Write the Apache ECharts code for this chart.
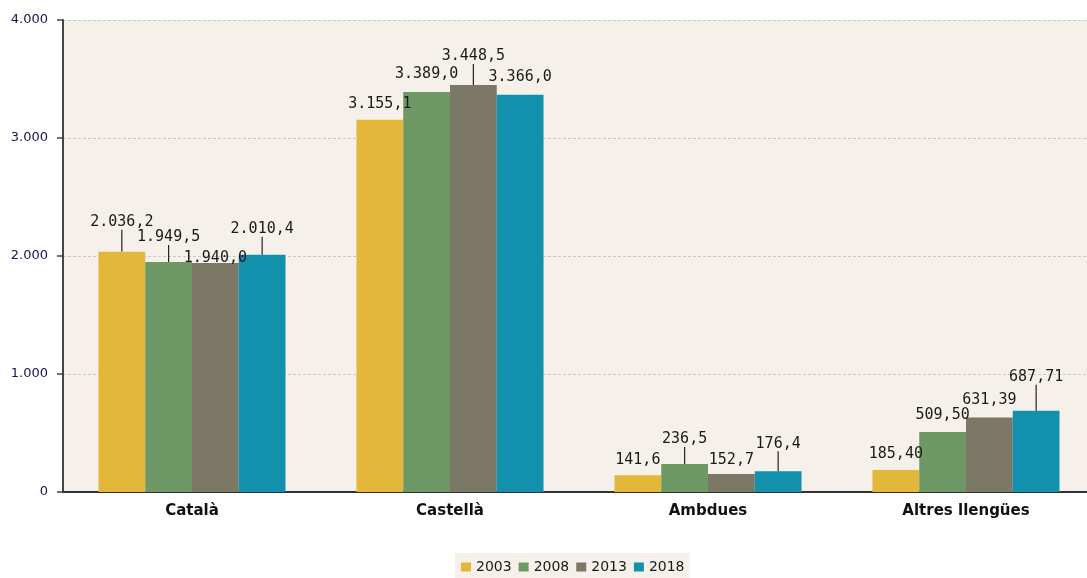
<!DOCTYPE html>
<html><head><meta charset="utf-8">
<script src="https://cdn.jsdelivr.net/npm/echarts@6/dist/echarts.min.js"></script>
<style>html,body{margin:0;padding:0;background:#fff;overflow:hidden;width:1087px;height:578px}#c{width:1095px;height:578px}</style>
</head><body><div id="c"></div>
<script>
const categories = ['Català', 'Castellà', 'Ambdues', 'Altres llengües'];
const decimals = [1, 1, 1, 2];
const years = ['2003', '2008', '2013', '2018'];
const v2003 = [2036.2, 3155.1, 141.6, 185.40];
const v2008 = [1949.5, 3389.0, 236.5, 509.50];
const v2013 = [1940.0, 3448.5, 152.7, 631.39];
const v2018 = [2010.4, 3366.0, 176.4, 687.71];
const yTicks = [0, 1000, 2000, 3000, 4000];

const colors = ['#E3B83A', '#6E9966', '#7B7966', '#1390AC'];
// label vertical offsets (px) and whether a leader line is drawn
const labelDy = [
  [-17, -3, -3, -4],
  [-12, -5, -12, -4],
  [8, -16, -1, -5],
  [-13, -5, -15, -21]
];
const labelLines = [
  [true, false, false, false],
  [true, false, true, false],
  [false, true, false, false],
  [true, false, true, true]
];

function fmt(v, d) {
  const parts = v.toFixed(d).split('.');
  parts[0] = parts[0].replace(/\B(?=(\d{3})+(?!\d))/g, '.');
  return parts.join(',');
}
function fmtAxis(v) { return String(v).replace(/\B(?=(\d{3})+(?!\d))/g, '.'); }

const values = [v2003, v2008, v2013, v2018];
const series = years.map((y, si) => ({
  name: y,
  type: 'bar',
  barGap: '0%',
  barCategoryGap: '27.5%',
  itemStyle: { color: colors[si] },
  data: values[si].map((v, ci) => ({
    value: v,
    labelLine: { show: labelLines[si][ci], lineStyle: { color: '#222', width: 1.2 } }
  })),
  label: {
    show: true,
    position: 'top',
    distance: 5,
    fontFamily: 'DejaVu Sans Mono',
    fontSize: 15,
    color: '#1a1a1a',
    formatter: p => fmt(p.value, decimals[p.dataIndex])
  },
  labelLayout: p => ({ dy: labelDy[si][p.dataIndex] }),
  labelLine: { show: false, smooth: false, length2: 0 }
}));

const chart = echarts.init(document.getElementById('c'), null, { renderer: 'canvas' });
chart.setOption({
  animation: false,
  backgroundColor: '#ffffff',
  color: colors,
  grid: { left: 63, right: 0, top: 20, bottom: 86, show: true, backgroundColor: '#F5F0EA', borderWidth: 0 },
  legend: {
    data: years,
    left: 455,
    top: 553,
    icon: 'rect',
    itemWidth: 10,
    itemHeight: 9,
    itemGap: 7,
    padding: [7, 5, 8, 6],
    backgroundColor: '#F5F0EA',
    textStyle: { fontFamily: 'DejaVu Sans', fontSize: 14, color: '#1a1a1a' }
  },
  xAxis: {
    type: 'category',
    data: categories,
    axisLine: { lineStyle: { color: '#333', width: 2 } },
    axisTick: { show: false },
    axisLabel: { fontFamily: 'DejaVu Sans', fontWeight: 'bold', fontSize: 15, color: '#111', margin: 12 }
  },
  yAxis: {
    type: 'value',
    min: 0,
    max: 4000,
    interval: 1000,
    axisLine: { show: true, lineStyle: { color: '#444', width: 2 } },
    axisTick: { show: true, length: 6, lineStyle: { color: '#444', width: 1.5 } },
    axisLabel: { fontFamily: 'DejaVu Sans', fontSize: 13, color: '#15154a', margin: 15, formatter: v => fmtAxis(v) },
    splitLine: { lineStyle: { color: '#c8c8c8', type: [3, 2], width: 1 } }
  },
  series: series
});
</script>
</body></html>
